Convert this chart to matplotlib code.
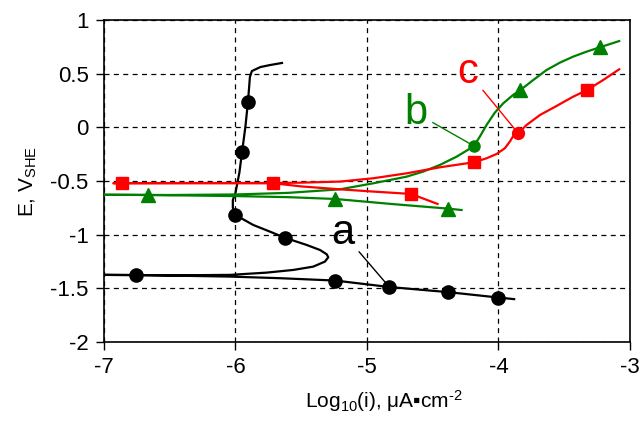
import matplotlib
matplotlib.use("Agg")
import matplotlib.pyplot as plt

plt.rcParams.update({
    "font.family": ["Liberation Sans", "DejaVu Sans"],
    "mathtext.fontset": "custom",
    "mathtext.rm": "Liberation Sans",
    "mathtext.it": "Liberation Sans:italic",
    "axes.linewidth": 1.2,
})

# curve a (black): cathodic branch right->left, then anodic branch back out and up
a_x = [-3.88, -4.0, -4.38, -4.83, -5.24, -5.66, -6.04, -6.42, -6.76, -7.0,
       -6.42, -6.04, -5.763, -5.56, -5.408, -5.319, -5.294, -5.306, -5.357, -5.459,
       -5.62, -5.738, -5.865, -6.0, -6.02, -6.02, -6.0, -5.97, -5.95, -5.925,
       -5.905, -5.89, -5.875, -5.81, -5.74, -5.646]
a_y = [-1.60, -1.585, -1.535, -1.487, -1.427, -1.405, -1.39, -1.382, -1.376, -1.374,
       -1.378, -1.374, -1.353, -1.328, -1.297, -1.25, -1.21, -1.182, -1.142, -1.095,
       -1.03, -0.971, -0.909, -0.816, -0.75, -0.676, -0.61, -0.42, -0.23, 0.0,
       0.236, 0.47, 0.525, 0.562, 0.58, 0.60]
a_mx = [-6.76, -5.24, -4.83, -4.38, -4.0, -5.62, -6.0, -5.95, -5.905]
a_my = [-1.374, -1.427, -1.487, -1.535, -1.585, -1.03, -0.816, -0.23, 0.236]

# curve b (green)
b_x = [-4.28, -4.38, -4.8, -5.24, -5.6, -6.0, -6.67, -7.0,
       -6.5, -6.0, -5.6, -5.205, -4.952, -4.698, -4.572, -4.445, -4.318, -4.242,
       -4.186, -4.141, -4.09, -4.027, -3.963, -3.888, -3.832, -3.735, -3.634,
       -3.532, -3.431, -3.33, -3.228, -3.081]
b_y = [-0.77, -0.757, -0.715, -0.667, -0.65, -0.64, -0.63, -0.628,
       -0.63, -0.625, -0.61, -0.577, -0.521, -0.459, -0.412, -0.35, -0.273, -0.217,
       -0.173, -0.086, 0.022, 0.137, 0.224, 0.302, 0.348, 0.441, 0.534,
       0.603, 0.659, 0.705, 0.746, 0.804]
b_tx = [-6.665, -5.24, -4.38, -3.832, -3.228]
b_ty = [-0.63, -0.667, -0.757, 0.348, 0.746]
b_cx, b_cy = -4.186, -0.173

# curve c (red)
c_x = [-4.463, -4.665, -4.952, -5.205, -5.5, -5.715, -6.3, -6.93,
       -6.3, -5.715, -5.5, -5.205, -4.952, -4.698, -4.445, -4.186, -4.09,
       -4.014, -3.951, -3.913, -3.882, -3.849, -3.786, -3.684, -3.558, -3.431,
       -3.325, -3.203, -3.081]
c_y = [-0.713, -0.62, -0.598, -0.577, -0.55, -0.52, -0.52, -0.52,
       -0.518, -0.518, -0.515, -0.505, -0.474, -0.428, -0.372, -0.325, -0.288,
       -0.248, -0.195, -0.133, -0.071, -0.055, 0.022, 0.115, 0.199, 0.286,
       0.348, 0.441, 0.541]
c_sx = [-6.86, -5.715, -4.665, -4.186, -3.325]
c_sy = [-0.52, -0.518, -0.62, -0.325, 0.348]
c_cx, c_cy = -3.849, -0.055

GREEN, RED = "#008000", "#FF0000"

fig = plt.figure(figsize=(6.44, 4.26), dpi=100)
ax = fig.add_axes([0.1615, 0.197, 0.8165, 0.756])

ax.plot(a_x, a_y, color="black", lw=1.6, zorder=3)
ax.plot(a_mx, a_my, ls="", marker="o", ms=9.5, color="black", zorder=4)

ax.plot(b_x, b_y, color=GREEN, lw=1.6, zorder=3)
ax.plot(b_tx, b_ty, ls="", marker="^", ms=9.5, color=GREEN, zorder=4)
ax.plot([b_cx], [b_cy], ls="", marker="o", ms=8, color=GREEN, zorder=4)

ax.plot(c_x, c_y, color=RED, lw=1.6, zorder=3)
ax.plot(c_sx, c_sy, ls="", marker="s", ms=9, color=RED, zorder=4)
ax.plot([c_cx], [c_cy], ls="", marker="o", ms=8.5, color=RED, zorder=4)

ax.annotate("a", xy=(-4.83, -1.487), xytext=(-5.183, -0.983), fontsize=30,
            ha="center", va="center", color="black",
            arrowprops=dict(arrowstyle="-", color="black", lw=1.0, shrinkA=2, shrinkB=0))
ax.annotate("b", xy=(b_cx, b_cy), xytext=(-4.627, 0.134), fontsize=30,
            ha="center", va="center", color=GREEN,
            arrowprops=dict(arrowstyle="-", color=GREEN, lw=1.0, shrinkA=2, shrinkB=0))
ax.annotate("c", xy=(c_cx, c_cy), xytext=(-4.232, 0.516), fontsize=30,
            ha="center", va="center", color=RED,
            arrowprops=dict(arrowstyle="-", color=RED, lw=1.0, shrinkA=2, shrinkB=0))

ax.set_xlim(-7, -3)
ax.set_ylim(-2, 1)
ax.set_xticks([-7, -6, -5, -4, -3])
ax.set_yticks([-2, -1.5, -1, -0.5, 0, 0.5, 1])
ax.set_xticklabels(["-7", "-6", "-5", "-4", "-3"])
ax.set_yticklabels(["-2", "-1.5", "-1", "-0.5", "0", "0.5", "1"])
ax.tick_params(labelsize=16, length=6, width=1.0, direction="out", pad=5)
ax.grid(True, color="black", ls=(0, (4, 3.5)), lw=0.9)
ax.set_axisbelow(True)

ax.set_xlabel("Log$\\mathregular{_{10}}$(i), μA▪cm$\\mathregular{^{\u20102}}$", fontsize=15,
              labelpad=7, x=0.532)
ax.set_ylabel(r"E, V$\mathregular{_{SHE}}$", fontsize=15, labelpad=8)

fig.savefig("out.png", dpi=100)
